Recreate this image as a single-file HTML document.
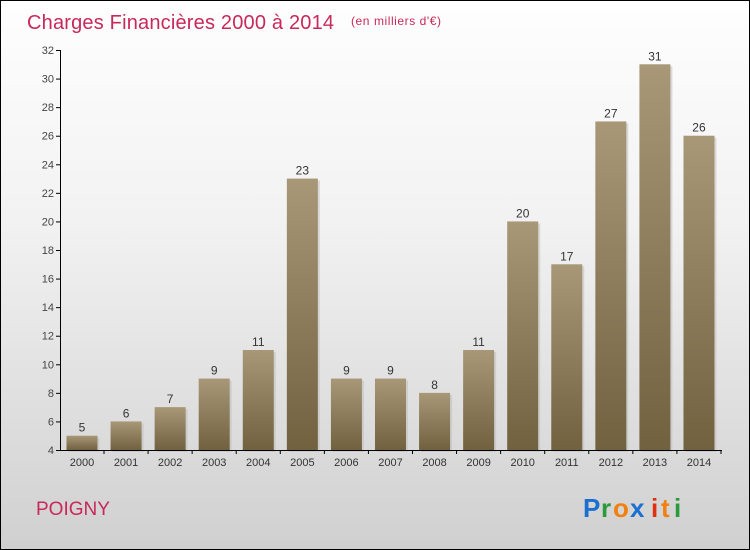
<!DOCTYPE html>
<html><head><meta charset="utf-8"><style>
body{margin:0}
#c{position:relative;width:748px;height:548px;border:1px solid #000;background:linear-gradient(#fefefe,#f2f2f2 40%,#d0d0d0);overflow:hidden;font-family:"Liberation Sans",sans-serif}
</style></head><body>
<div id="c">
<svg width="748" height="548" id="s">
<defs><linearGradient id="g" x1="0" y1="0" x2="0" y2="1"><stop offset="0" stop-color="#a89878"/><stop offset="1" stop-color="#72613f"/></linearGradient></defs>
<text x="26" y="28" font-size="20" fill="#c8285a" textLength="307">Charges Financières 2000 à 2014</text>
<text x="350" y="24" font-size="12" fill="#c8285a" textLength="90">(en milliers d'€)</text>
<text x="35" y="514" font-size="19" fill="#c8285a">POIGNY</text>
<g font-size="26" font-weight="bold"><text x="582" y="516" fill="#1b6fd0">P</text><text x="600" y="516" fill="#2a9a3a">r</text><text x="612" y="516" fill="#f08010">o</text><text x="629" y="516" fill="#1b6fd0">x</text><text x="650" y="516" fill="#e03010">i</text><text x="660" y="516" fill="#f08010">t</text><text x="673" y="516" fill="#2a9a3a">i</text></g>
<g id="bars"></g><g id="axes"></g>
</svg></div>
<script>
const years=["2000","2001","2002","2003","2004","2005","2006","2007","2008","2009","2010","2011","2012","2013","2014"];
const values=[5,6,7,9,11,23,9,9,8,11,20,17,27,31,26];
const yTicks=[4,6,8,10,12,14,16,18,20,22,24,26,28,30,32];
const ns="http://www.w3.org/2000/svg";
const y=v=>449-(v-4)*400/28;
const x=i=>81+i*44.07;
function mk(t,a,p){const e=document.createElementNS(ns,t);for(const k in a)e.setAttribute(k,a[k]);p.appendChild(e);return e;}
const B=document.getElementById('bars'),A=document.getElementById('axes');
values.forEach((v,i)=>{
 const r=mk('rect',{x:x(i)-15.5+2,y:y(v)+2,width:31,height:449-y(v),fill:'#bbb',opacity:0.5},B);
 
 
 const b=mk('rect',{x:x(i)-15.5,y:y(v),width:31,height:449-y(v),fill:'url(#g)'},B);
 
 
 const t=mk('text',{x:x(i),y:y(v)-4,'text-anchor':'middle','font-size':12,fill:'#333'},B);t.textContent=v;
 
 
 const l=mk('text',{x:x(i),y:465,'text-anchor':'middle','font-size':11,fill:'#333'},A);l.textContent=years[i];
 
 
 mk('line',{x1:x(i)+22,x2:x(i)+22,y1:449,y2:453,stroke:'#000'},A);
});
mk('line',{x1:59.5,x2:59.5,y1:49,y2:449,stroke:'#000'},A);
mk('line',{x1:59,x2:721,y1:449.5,y2:449.5,stroke:'#000'},A);
yTicks.forEach(v=>{
 mk('line',{x1:55,x2:60,y1:y(v)+.5,y2:y(v)+.5,stroke:'#000'},A);
 const t=mk('text',{x:53,y:y(v)+4,'text-anchor':'end','font-size':11,fill:'#444'},A);t.textContent=v;
 
 
});
</script></body></html>
